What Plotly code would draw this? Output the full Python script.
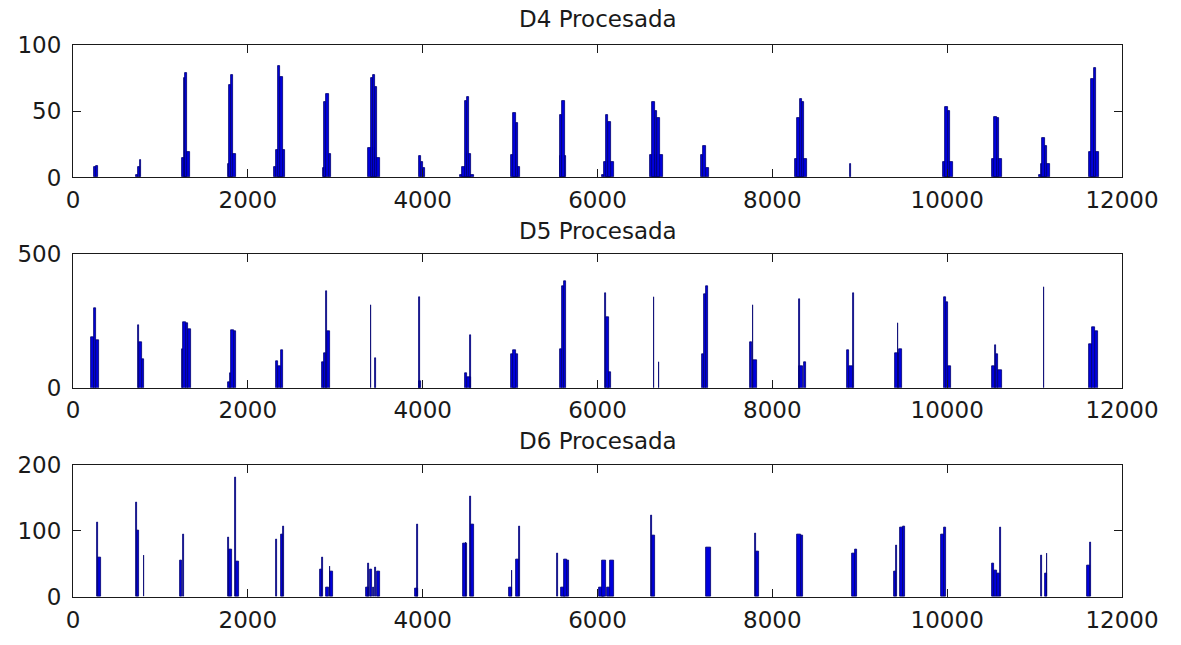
import plotly.graph_objects as go

# ---- data: each bar segment = (start sample, end sample, amplitude) ----
d4_start = [245, 262, 716, 746, 772, 1242, 1278, 1265, 1285, 1769, 1813, 1790, 1810,
            2296, 2327, 2345, 2370, 2858, 2871, 2897, 2923, 3380, 3450, 3407, 3433, 3455,
            3960, 3978, 4004, 4425, 4448, 4482, 4509, 4509, 5009, 5035, 5062, 5084,
            5575, 5575, 5597, 6057, 6075, 6097, 6123, 6606, 6624, 6655, 6681,
            7187, 7209, 7240, 8264, 8286, 8312, 8338, 8888, 9956, 9978, 10005,
            10514, 10536, 10567, 11055, 11075, 11090, 11117, 11627, 11649, 11680]
d4_end = [262, 285, 746, 772, 782, 1278, 1343, 1285, 1305, 1805, 1866, 1810, 1835,
          2327, 2428, 2370, 2405, 2890, 2897, 2923, 2954, 3450, 3516, 3433, 3455, 3481,
          3978, 4004, 4030, 4588, 4505, 4509, 4535, 4552, 5084, 5062, 5088, 5114,
          5640, 5597, 5624, 6080, 6189, 6123, 6154, 6747, 6655, 6681, 6712,
          7209, 7240, 7275, 8396, 8312, 8338, 8365, 8896, 10066, 10005, 10031,
          10624, 10567, 10594, 11080, 11174, 11117, 11143, 11736, 11680, 11706]
d4_val = [8, 9, 2, 8, 13, 15, 19, 75, 79, 10, 18, 70, 77,
          8, 21, 84, 76, 7, 57, 63, 18, 22, 15, 75, 77, 68,
          16, 12, 7, 2, 8, 58, 61, 18, 17, 49, 41, 8,
          16, 47, 58, 2, 12, 47, 42, 17, 57, 50, 45,
          17, 24, 7, 14, 45, 59, 57, 10, 12, 53, 50,
          14, 46, 45, 2, 10, 30, 24, 19, 74, 83]

d5_start = [211, 241, 259, 738, 755, 786, 1242, 1264, 1295, 1317, 1769, 1791, 1813, 1840,
            2318, 2349, 2384, 2845, 2876, 2899, 2907, 3405, 3460, 3960, 3962,
            4482, 4504, 4540, 5009, 5035, 5567, 5593, 5620, 6088, 6092, 6120,
            6642, 6699, 7191, 7218, 7244, 7745, 7776, 7780, 8304, 8308, 8361,
            8857, 8879, 8924, 9407, 9451, 9433, 9965, 9987, 10009,
            10514, 10549, 10557, 10585, 11104, 11627, 11658, 11693]
d5_end = [241, 259, 299, 755, 786, 817, 1264, 1295, 1317, 1352, 1791, 1813, 1840, 1870,
          2349, 2375, 2406, 2876, 2897, 2907, 2945, 3413, 3468, 3968, 3985,
          4504, 4548, 4548, 5092, 5062, 5593, 5620, 5645, 6096, 6132, 6154,
          6650, 6707, 7218, 7244, 7266, 7771, 7784, 7824, 8312, 8352, 8387,
          8879, 8923, 8932, 9451, 9481, 9441, 9987, 10013, 10044,
          10549, 10557, 10585, 10624, 11112, 11658, 11693, 11728]
d5_val = [190, 297, 178, 233, 170, 107, 145, 245, 240, 220, 20, 55, 215, 210,
          100, 80, 140, 95, 130, 360, 210, 310, 110, 340, 25,
          55, 40, 195, 125, 140, 145, 380, 400, 353, 264, 60,
          340, 95, 125, 350, 380, 170, 310, 105, 330, 80, 95,
          140, 80, 355, 130, 145, 240, 340, 320, 80,
          80, 160, 125, 65, 375, 165, 225, 210]

d6_start = [273, 290, 720, 729, 808, 1220, 1258, 1774, 1782, 1853, 1861,
            2323, 2375, 2402, 2823, 2854, 2897, 2937, 2945,
            3354, 3376, 3393, 3430, 3455, 3481, 3907, 3938,
            4460, 4490, 4544, 4552, 4987, 5018, 5066, 5101,
            5540, 5588, 5619, 5654, 6022, 6057, 6110, 6145, 6611, 6619,
            7244, 7807, 7811, 8286, 8325, 8910, 8941,
            9389, 9413, 9462, 9492, 9934, 9965,
            10514, 10541, 10571, 10603, 11072, 11117, 11139, 11605, 11636]
d6_end = [281, 320, 728, 760, 816, 1247, 1266, 1782, 1817, 1861, 1901,
          2331, 2397, 2410, 2845, 2862, 2924, 2945, 2976,
          3385, 3384, 3424, 3442, 3463, 3512, 3942, 3946,
          4504, 4498, 4552, 4592, 5018, 5026, 5101, 5109,
          5548, 5632, 5654, 5676, 6075, 6092, 6145, 6189, 6619, 6659,
          7297, 7815, 7846, 8325, 8347, 8941, 8963,
          9411, 9421, 9492, 9514, 9965, 9987,
          10541, 10571, 10606, 10611, 11080, 11139, 11147, 11631, 11644]
d6_val = [113, 60, 142, 100, 62, 55, 95, 90, 72, 180, 53,
          87, 95, 107, 42, 60, 15, 46, 38,
          15, 50, 42, 15, 45, 38, 13, 110,
          80, 82, 152, 110, 15, 40, 57, 107,
          65, 15, 57, 55, 15, 55, 15, 55, 123, 93,
          75, 96, 68, 95, 93, 65, 72,
          38, 78, 105, 107, 95, 105,
          50, 40, 35, 105, 62, 35, 65, 47, 82]

titles = ["D4 Procesada", "D5 Procesada", "D6 Procesada"]
y_ranges = [[0, 100], [0, 500], [0, 200]]
y_ticks = [[0, 50, 100], [0, 500], [0, 100, 200]]
x_ticks = [0, 2000, 4000, 6000, 8000, 10000, 12000]
x_ticktext = ["0", "2000", "4000", "6000", "8000", "10000", "12000"]

panels = [(d4_start, d4_end, d4_val), (d5_start, d5_end, d5_val), (d6_start, d6_end, d6_val)]

# layout geometry (paper fractions)
domains = [[0.760, 1.0], [0.379, 0.621], [0.0, 0.240]]
title_y = [1.047, 0.663, 0.283]

FONT = "DejaVu Sans"
FILL = "#0000dd"
EDGE = "#000070"
TXT = "#1a1a1a"

fig = go.Figure()
for i, (st, en, va) in enumerate(panels):
    order = sorted(range(len(va)), key=lambda k: va[k])
    xs = [(st[k] + en[k]) / 2 for k in order]
    ws = [en[k] - st[k] for k in order]
    ys = [va[k] for k in order]
    ax = "" if i == 0 else str(i + 1)
    fig.add_trace(go.Bar(
        x=xs, y=ys, width=ws,
        marker=dict(color=FILL, line=dict(color=EDGE, width=0.8)),
        xaxis="x" + ax, yaxis="y" + ax, showlegend=False,
    ))
    axis_common = dict(showline=True, linecolor="#1a1a1a", linewidth=1, mirror="allticks",
                       ticks="inside", ticklen=8, tickcolor="#1a1a1a", tickwidth=1,
                       showgrid=False, zeroline=False,
                       tickfont=dict(family=FONT, size=23, color=TXT))
    fig.layout["xaxis" + ax] = dict(axis_common, range=[0, 12000], tickvals=x_ticks,
                                    ticktext=x_ticktext, anchor="y" + ax, domain=[0, 1],
                                    ticklabelstandoff=2)
    fig.layout["yaxis" + ax] = dict(axis_common, range=y_ranges[i], tickvals=y_ticks[i],
                                    anchor="x" + ax, domain=domains[i], ticklabelstandoff=6)
    fig.add_annotation(text=titles[i], x=0.5, y=title_y[i], xref="paper", yref="paper",
                       xanchor="center", yanchor="middle", showarrow=False,
                       font=dict(family=FONT, size=23, color=TXT))

fig.update_layout(width=1181, height=645, autosize=False,
                  margin=dict(l=73, r=59, t=45, b=33),
                  paper_bgcolor="white", plot_bgcolor="white",
                  barmode="overlay", bargap=0)

fig.write_html("out.html")
